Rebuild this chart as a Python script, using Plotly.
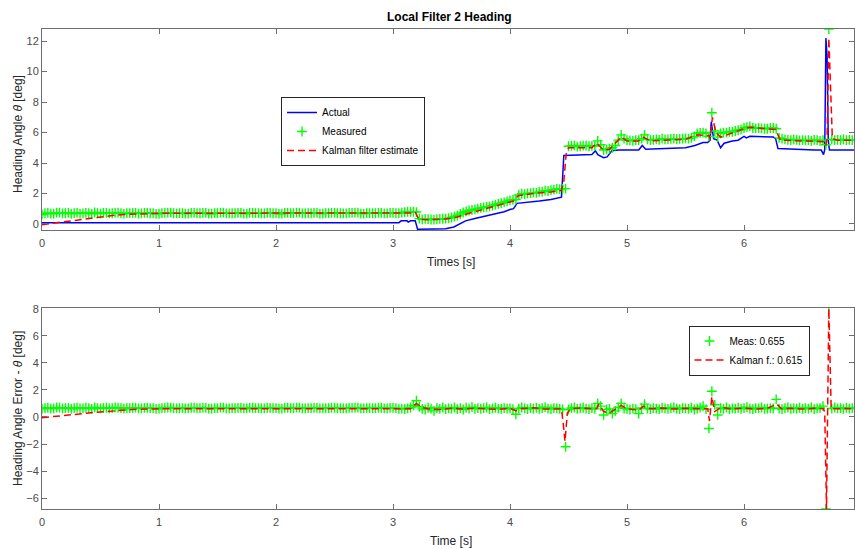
import numpy as np
import plotly.graph_objects as go

# ---------------- data ----------------
# measurement sample times [s]
t_meas = np.round(np.arange(0, 6.9501, 0.025), 3)

meas = [
    0.62, 0.70, 0.72, 0.67, 0.68, 0.74, 0.74, 0.69, 0.70, 0.72,
    0.66, 0.71, 0.73, 0.68, 0.69, 0.73, 0.71, 0.66, 0.75, 0.70,
    0.68, 0.72, 0.72, 0.69, 0.70, 0.74, 0.74, 0.70, 0.67, 0.71,
    0.71, 0.73, 0.73, 0.68, 0.69, 0.72, 0.72, 0.70, 0.70, 0.66,
    0.66, 0.71, 0.72, 0.74, 0.74, 0.70, 0.69, 0.71, 0.71, 0.68,
    0.68, 0.73, 0.73, 0.70, 0.70, 0.72, 0.72, 0.67, 0.67, 0.71,
    0.71, 0.74, 0.74, 0.69, 0.69, 0.70, 0.70, 0.72, 0.72, 0.68,
    0.68, 0.73, 0.73, 0.71, 0.71, 0.69, 0.69, 0.72, 0.72, 0.70,
    0.70, 0.67, 0.67, 0.73, 0.73, 0.71, 0.71, 0.74, 0.74, 0.69,
    0.69, 0.70, 0.70, 0.72, 0.72, 0.68, 0.68, 0.71, 0.71, 0.73,
    0.73, 0.70, 0.70, 0.69, 0.69, 0.72, 0.72, 0.74, 0.74, 0.68,
    0.68, 0.71, 0.71, 0.70, 0.70, 0.73, 0.73, 0.69, 0.69, 0.72,
    0.72, 0.70, 0.70, 0.74, 0.78, 0.80, 0.79, 0.80, 0.78, 0.35,
    0.30, 0.33, 0.32, 0.29, 0.28, 0.31, 0.33, 0.34, 0.35, 0.37,
    0.42, 0.48, 0.55, 0.65, 0.75, 0.82, 0.88, 0.92, 0.95, 1.00,
    1.05, 1.08, 1.12, 1.15, 1.20, 1.26, 1.32, 1.36, 1.42, 1.48,
    1.55, 1.58, 1.60, 1.90, 1.98, 1.96, 2.00, 2.02, 2.05, 2.04,
    2.10, 2.12, 2.18, 2.16, 2.22, 2.25, 2.30, 2.28, 2.32, 2.32,
    5.10, 5.12, 5.15, 5.08, 5.10, 5.14, 5.15, 5.10, 5.12, 5.12,
    5.45, 5.20, 4.85, 4.90, 4.95, 5.00, 5.15, 5.50, 5.85, 5.60,
    5.50, 5.48, 5.45, 5.50, 5.50, 5.60, 5.85, 5.55, 5.50, 5.52,
    5.55, 5.52, 5.60, 5.55, 5.55, 5.58, 5.60, 5.56, 5.58, 5.60,
    5.62, 5.60, 5.65, 5.75, 5.95, 5.98, 6.00, 5.95, 5.75, 7.30,
    6.10, 5.70, 5.95, 6.00, 6.00, 6.05, 6.05, 6.10, 6.15, 6.20,
    6.30, 6.35, 6.40, 6.30, 6.28, 6.30, 6.28, 6.25, 6.25, 6.30,
    6.30, 6.25, 5.65, 5.60, 5.55, 5.52, 5.50, 5.55, 5.52, 5.48,
    5.50, 5.48, 5.50, 5.45, 5.52, 5.50, 5.45, 5.50, 5.20, 12.80,
    5.55, 5.50, 5.52, 5.50, 5.55, 5.50, 5.52, 5.50, 5.50]

t_act = [0, 3.05, 3.07, 3.12, 3.13, 3.15, 3.19, 3.21, 3.35, 3.40, 3.45, 3.52,
         3.56, 3.62, 3.70, 3.78, 3.85, 3.90, 3.95, 4.00, 4.03, 4.06, 4.15,
         4.25, 4.35, 4.42, 4.44, 4.46, 4.60, 4.70, 4.73, 4.75, 4.80, 4.83,
         4.87, 4.93, 5.10, 5.13, 5.16, 5.30, 5.50, 5.58, 5.65, 5.69, 5.71,
         5.72, 5.74, 5.77, 5.80, 5.83, 5.90, 5.95, 6.00, 6.02, 6.05, 6.25,
         6.27, 6.29, 6.40, 6.50, 6.60, 6.66, 6.68, 6.69, 6.70, 6.71, 6.72,
         6.73, 6.95]
actual = [0.08, 0.08, 0.20, 0.20, 0.12, 0.20, 0.20, -0.35, -0.33, -0.30,
          -0.32, -0.20, -0.05, 0.20, 0.35, 0.50, 0.60, 0.70, 0.80, 0.95,
          1.00, 1.35, 1.40, 1.50, 1.60, 1.75, 1.75, 4.50, 4.55, 4.55, 4.80,
          4.55, 4.35, 4.40, 4.80, 4.85, 4.85, 5.15, 4.90, 4.95, 5.00, 5.15,
          5.35, 5.35, 5.50, 6.70, 5.60, 5.50, 5.00, 5.30, 5.45, 5.50, 5.75,
          5.65, 5.75, 5.70, 5.60, 4.95, 4.90, 4.90, 4.85, 4.85, 4.55, 4.90,
          12.20, 11.00, 5.50, 4.85, 4.85]

t_kf = [0, 0.1, 0.2, 0.3, 0.4, 0.5, 0.6, 0.7, 0.8, 0.9, 1.0, 3.15, 3.19,
        3.22, 3.30, 3.45, 3.55, 3.65, 3.75, 3.85, 3.95, 4.03, 4.07, 4.20,
        4.35, 4.44, 4.46, 4.48, 4.50, 4.70, 4.74, 4.80, 4.85, 4.90, 4.95,
        5.00, 5.10, 5.14, 5.20, 5.50, 5.60, 5.70, 5.71, 5.73, 5.76, 5.80,
        5.90, 6.00, 6.05, 6.27, 6.31, 6.50, 6.68, 6.70, 6.71, 6.725, 6.74,
        6.755, 6.80, 6.95]
kalman = [-0.05, 0.05, 0.15, 0.28, 0.38, 0.46, 0.55, 0.62, 0.66, 0.68, 0.70,
          0.72, 0.78, 0.30, 0.28, 0.32, 0.45, 0.70, 0.90, 1.10, 1.30, 1.50,
          1.85, 2.00, 2.10, 2.20, 2.80, 4.60, 5.00, 5.00, 5.30, 4.85, 4.90,
          5.30, 5.70, 5.45, 5.45, 5.70, 5.45, 5.55, 5.85, 5.80, 5.60, 7.00,
          6.00, 5.70, 6.00, 6.25, 6.35, 6.20, 5.50, 5.45, 5.40, 5.15, 5.60,
          12.20, 9.00, 5.60, 5.50, 5.50]

meas_err = [
    0.60, 0.66, 0.68, 0.62, 0.63, 0.70, 0.69, 0.64, 0.65, 0.67,
    0.60, 0.66, 0.68, 0.63, 0.64, 0.69, 0.66, 0.60, 0.71, 0.65,
    0.63, 0.67, 0.68, 0.64, 0.65, 0.70, 0.69, 0.65, 0.61, 0.66,
    0.66, 0.68, 0.69, 0.63, 0.64, 0.67, 0.67, 0.65, 0.65, 0.60,
    0.61, 0.66, 0.67, 0.70, 0.69, 0.65, 0.64, 0.66, 0.66, 0.63,
    0.63, 0.68, 0.68, 0.65, 0.65, 0.67, 0.67, 0.62, 0.62, 0.66,
    0.66, 0.69, 0.69, 0.64, 0.64, 0.65, 0.65, 0.67, 0.67, 0.63,
    0.63, 0.68, 0.68, 0.66, 0.66, 0.64, 0.64, 0.67, 0.67, 0.65,
    0.65, 0.62, 0.62, 0.68, 0.68, 0.66, 0.66, 0.69, 0.69, 0.64,
    0.64, 0.65, 0.65, 0.67, 0.67, 0.63, 0.63, 0.66, 0.66, 0.68,
    0.68, 0.65, 0.65, 0.64, 0.64, 0.67, 0.67, 0.69, 0.69, 0.63,
    0.63, 0.66, 0.66, 0.65, 0.65, 0.68, 0.68, 0.64, 0.64, 0.67,
    0.67, 0.65, 0.60, 0.62, 0.58, 0.64, 0.70, 0.85, 1.20, 0.75,
    0.60, 0.55, 0.68, 0.62, 0.45, 0.66, 0.60, 0.70, 0.58, 0.64,
    0.62, 0.70, 0.58, 0.66, 0.55, 0.68, 0.62, 0.72, 0.60, 0.65,
    0.60, 0.66, 0.70, 0.58, 0.64, 0.68, 0.62, 0.60, 0.66, 0.62,
    0.64, 0.58, 0.20, 0.62, 0.70, 0.64, 0.58, 0.66, 0.62, 0.68,
    0.60, 0.66, 0.72, 0.62, 0.58, 0.66, 0.64, 0.60, 0.55, -2.20,
    0.55, 0.66, 0.70, 0.60, 0.64, 0.68, 0.62, 0.58, 0.66, 0.60,
    1.00, 0.80, 0.15, 0.55, 0.60, 0.25, 0.45, 0.70, 1.00, 0.62,
    0.60, 0.55, 0.62, 0.58, 0.25, 0.66, 0.95, 0.62, 0.58, 0.66,
    0.62, 0.58, 0.68, 0.64, 0.60, 0.66, 0.70, 0.62, 0.58, 0.66,
    0.64, 0.60, 0.68, 0.55, 0.62, 0.70, 0.80, 0.58, -0.85, 1.90,
    0.90, 0.15, 0.66, 0.60, 0.70, 0.58, 0.64, 0.62, 0.68, 0.60,
    0.66, 0.72, 0.62, 0.58, 0.66, 0.64, 0.70, 0.60, 0.62, 0.66,
    0.64, 1.30, 0.62, 0.58, 0.66, 0.70, 0.60, 0.64, 0.62, 0.68,
    0.60, 0.66, 0.62, 0.70, 0.58, 0.64, 0.66, 0.80, -6.80, 8.10,
    0.62, 0.70, 0.64, 0.66, 0.60, 0.68, 0.62, 0.66, 0.64]

t_kf_err = [0, 0.1, 0.2, 0.3, 0.4, 0.5, 0.6, 0.7, 0.8, 1.0, 3.15, 3.20, 3.25,
            3.30, 3.40, 3.50, 3.60, 3.70, 3.80, 3.90, 4.00, 4.05, 4.10, 4.20,
            4.30, 4.44, 4.46, 4.47, 4.49, 4.52, 4.60, 4.74, 4.76, 4.80, 4.85,
            4.90, 4.95, 5.00, 5.10, 5.14, 5.20, 5.30, 5.40, 5.50, 5.60, 5.69,
            5.705, 5.725, 5.75, 5.80, 5.90, 6.00, 6.10, 6.20, 6.28, 6.32, 6.40,
            6.50, 6.60, 6.68, 6.69, 6.705, 6.725, 6.745, 6.85, 6.95]
kf_err = [-0.05, 0.02, 0.10, 0.20, 0.30, 0.38, 0.45, 0.52, 0.57, 0.60, 0.60,
          1.00, 0.70, 0.60, 0.55, 0.65, 0.58, 0.66, 0.60, 0.55, 0.65, 0.45,
          0.62, 0.68, 0.58, 0.60, -0.90, -1.80, 0.30, 0.60, 0.66, 0.60, 0.95,
          0.40, 0.30, 0.60, 0.85, 0.60, 0.50, 0.80, 0.60, 0.66, 0.58, 0.64,
          0.60, 0.60, -0.30, 1.50, 0.40, 0.70, 0.60, 0.66, 0.58, 0.64, 0.95,
          0.60, 0.64, 0.58, 0.64, 0.60, 0.30, -6.80, 8.00, 0.60, 0.62, 0.60]

x_ticks = [0, 1, 2, 3, 4, 5, 6]
y1_ticks = [0, 2, 4, 6, 8, 10, 12]
y2_ticks = [-6, -4, -2, 0, 2, 4, 6, 8]

# ---------------- styling ----------------
W, H = 855, 549
FONT = "Liberation Sans, Arial, sans-serif"
BLUE, GREEN, RED = "#0000ff", "#00ff00", "#ff0000"
AXC = "#6e6e6e"
TICKC = "#4a4a4a"
DASH = "7px,4px"


def px_x(p):
    return p / W


def px_y(p):
    return 1 - p / H


fig = go.Figure()

meas_marker = dict(symbol="cross-thin", size=7, color=GREEN,
                   line=dict(color=GREEN, width=1.4))

fig.add_trace(go.Scatter(x=t_act, y=actual, mode="lines", name="Actual",
                         line=dict(color=BLUE, width=1.5),
                         xaxis="x", yaxis="y", legend="legend"))
fig.add_trace(go.Scatter(x=t_meas, y=meas, mode="markers", name="Measured",
                         marker=meas_marker,
                         xaxis="x", yaxis="y", legend="legend"))
fig.add_trace(go.Scatter(x=t_kf, y=kalman, mode="lines",
                         name="Kalman filter estimate",
                         line=dict(color=RED, width=1.5, dash=DASH),
                         xaxis="x", yaxis="y", legend="legend"))

fig.add_trace(go.Scatter(x=t_meas, y=meas_err, mode="markers",
                         name="Meas: 0.655", marker=meas_marker,
                         xaxis="x2", yaxis="y2", legend="legend2"))
fig.add_trace(go.Scatter(x=t_kf_err, y=kf_err, mode="lines",
                         name="Kalman f.: 0.615",
                         line=dict(color=RED, width=1.5, dash=DASH),
                         xaxis="x2", yaxis="y2", legend="legend2"))

xdom = [px_x(42), px_x(854)]
common_axis = dict(showline=True, linecolor=AXC, linewidth=1, mirror="ticks",
                   ticks="inside", ticklen=5, tickcolor=AXC, showgrid=False,
                   zeroline=False, automargin=False,
                   tickfont=dict(family=FONT, size=11, color=TICKC))

legend_common = dict(xanchor="center", yanchor="middle",
                     bordercolor="#262626", borderwidth=1, bgcolor="white",
                     font=dict(family=FONT, size=10, color="#000000"),
                     itemwidth=30, tracegroupgap=0, traceorder="normal")

fig.update_layout(
    width=W, height=H,
    margin=dict(l=0, r=0, t=0, b=0),
    paper_bgcolor="white", plot_bgcolor="white",
    font=dict(family=FONT, color="#262626"),
    xaxis=dict(domain=xdom, range=[0, 6.94], tickvals=x_ticks, anchor="y",
               ticklabelstandoff=3, **common_axis),
    yaxis=dict(domain=[px_y(230), px_y(29)], range=[-0.4, 12.8],
               tickvals=y1_ticks, anchor="x", **common_axis),
    xaxis2=dict(domain=xdom, range=[0, 6.94], tickvals=x_ticks, anchor="y2",
                ticklabelstandoff=3, **common_axis),
    yaxis2=dict(domain=[px_y(509), px_y(308)], range=[-6.8, 8.05],
                tickvals=y2_ticks, anchor="x2", **common_axis),
    legend=dict(x=px_x(353), y=px_y(131.5), **legend_common),
    legend2=dict(x=px_x(749), y=px_y(350.5), **legend_common),
    showlegend=True,
)

annots = [
    dict(text="<b>Local Filter 2 Heading</b>", x=px_x(449), y=px_y(17),
         font=dict(size=12, color="#000000")),
    dict(text="Times [s]", x=px_x(451), y=px_y(262),
         font=dict(size=12, color="#262626")),
    dict(text="Time [s]", x=px_x(451), y=px_y(541),
         font=dict(size=12, color="#262626")),
    dict(text="Heading Angle <i>θ</i> [deg]", x=px_x(17.5), y=px_y(134.5),
         textangle=-90, font=dict(size=12, color="#262626")),
    dict(text="Heading Angle Error - <i>θ</i> [deg]", x=px_x(17.5),
         y=px_y(408.5), textangle=-90, font=dict(size=12, color="#262626")),
]
for a in annots:
    fig.add_annotation(xref="paper", yref="paper", showarrow=False,
                       xanchor="center", yanchor="middle",
                       font_family=FONT, **a)

# remove the browser's default page margin so the figure sits at (0, 0)
fig.write_html("out.html",
               config={"displayModeBar": False},
               post_script="document.body.style.margin='0';"
                           "document.body.style.overflow='hidden';")
